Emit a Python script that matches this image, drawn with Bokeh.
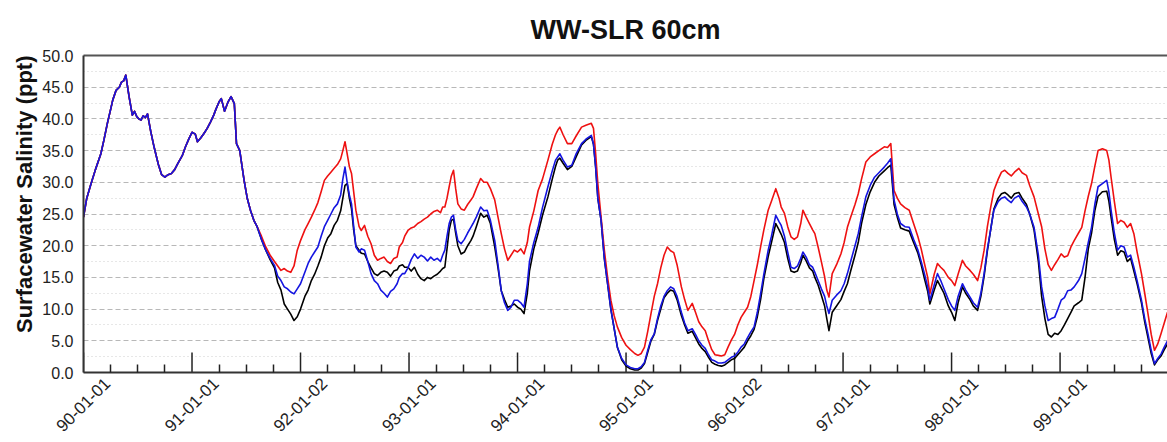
import math
from bokeh.plotting import figure
from bokeh.models import Range1d, FixedTicker, LinearAxis, PrintfTickFormatter, Title
from bokeh.embed import file_html
from bokeh.resources import INLINE

# ---------------- data ----------------
# time in years since 1990-01-01
shared_years = [
    0.00, 0.03, 0.07, 0.11, 0.16, 0.19, 0.22, 0.25, 0.27, 0.30,
    0.33, 0.35, 0.37, 0.39, 0.42, 0.45, 0.47, 0.49, 0.51, 0.53,
    0.55, 0.57, 0.59, 0.62, 0.65, 0.69, 0.72, 0.75, 0.78, 0.81,
    0.84, 0.87, 0.91, 0.94, 0.97, 1.00, 1.03, 1.05, 1.08, 1.11,
    1.14, 1.17, 1.20, 1.22, 1.25, 1.27, 1.30, 1.33, 1.36, 1.39,
    1.41, 1.44, 1.48, 1.51, 1.54, 1.57, 1.60]
# all three runs coincide over this period
shared = [
    24.5, 27.5, 29.8, 32.0, 34.5, 36.8, 39.3, 41.5, 43.0, 44.5,
    45.0, 45.8, 46.0, 46.9, 43.5, 40.6, 41.2, 40.4, 40.0, 39.8,
    40.5, 40.2, 40.8, 38.0, 35.6, 32.8, 31.2, 30.8, 31.2, 31.4,
    32.0, 33.0, 34.2, 35.6, 36.8, 37.9, 37.6, 36.4, 37.0, 37.7,
    38.5, 39.5, 40.6, 41.5, 42.7, 43.2, 41.2, 42.6, 43.5, 42.4,
    36.1, 35.0, 30.3, 27.4, 25.5, 24.0, 23.0]

later_years = [
    1.64, 1.68, 1.72, 1.76, 1.79, 1.82, 1.85, 1.88, 1.91, 1.94,
    1.97, 2.00, 2.04, 2.07, 2.10, 2.13, 2.16, 2.19, 2.22, 2.25,
    2.28, 2.31, 2.34, 2.37, 2.39, 2.41, 2.43, 2.45, 2.47, 2.49,
    2.51, 2.54, 2.56, 2.59, 2.62, 2.65, 2.68, 2.71, 2.74, 2.77,
    2.80, 2.83, 2.86, 2.89, 2.91, 2.94, 2.96, 2.99, 3.02, 3.05,
    3.08, 3.11, 3.14, 3.17, 3.20, 3.23, 3.26, 3.29, 3.31, 3.33,
    3.35, 3.37, 3.39, 3.41, 3.43, 3.45, 3.48, 3.51, 3.54, 3.57,
    3.59, 3.62, 3.66, 3.69, 3.72, 3.75, 3.79, 3.82, 3.85, 3.88,
    3.91, 3.94, 3.97, 4.00, 4.03, 4.06, 4.09, 4.11, 4.15, 4.19,
    4.23, 4.28, 4.32, 4.35, 4.37, 4.39, 4.42, 4.46, 4.50, 4.54,
    4.59, 4.63, 4.68, 4.70, 4.72, 4.74, 4.77, 4.80, 4.83, 4.86,
    4.89, 4.92, 4.96, 5.00, 5.04, 5.08, 5.11, 5.14, 5.17, 5.20,
    5.23, 5.26, 5.29, 5.32, 5.35, 5.38, 5.41, 5.44, 5.47, 5.51,
    5.54, 5.57, 5.61, 5.64, 5.67, 5.70, 5.73, 5.76, 5.79, 5.82,
    5.85, 5.88, 5.91, 5.94, 5.97, 6.00, 6.03, 6.06, 6.09, 6.12,
    6.15, 6.18, 6.21, 6.24, 6.27, 6.31, 6.34, 6.38, 6.41, 6.43,
    6.46, 6.49, 6.52, 6.55, 6.58, 6.61, 6.63, 6.66, 6.69, 6.72,
    6.74, 6.77, 6.80, 6.83, 6.85, 6.87, 6.90, 6.94, 6.98, 7.01,
    7.04, 7.07, 7.11, 7.14, 7.17, 7.21, 7.25, 7.29, 7.33, 7.38,
    7.41, 7.44, 7.47, 7.50, 7.53, 7.57, 7.61, 7.65, 7.69, 7.72,
    7.75, 7.78, 7.80, 7.84, 7.87, 7.90, 7.93, 7.97, 8.00, 8.03,
    8.06, 8.10, 8.13, 8.17, 8.20, 8.24, 8.27, 8.30, 8.33, 8.36,
    8.39, 8.43, 8.46, 8.49, 8.52, 8.55, 8.58, 8.62, 8.65, 8.69,
    8.72, 8.76, 8.80, 8.83, 8.86, 8.89, 8.92, 8.95, 8.98, 9.01,
    9.04, 9.07, 9.10, 9.13, 9.17, 9.20, 9.23, 9.26, 9.29, 9.32,
    9.35, 9.39, 9.43, 9.45, 9.47, 9.50, 9.53, 9.56, 9.59, 9.62,
    9.65, 9.68, 9.71, 9.75, 9.78, 9.81, 9.84, 9.87, 9.90, 9.93,
    9.96, 9.99]

red_later = [
    21.5, 19.8, 18.5, 17.5, 16.8, 16.1, 16.4, 16.0, 15.8, 16.8,
    19.3, 20.8, 22.5, 23.5, 24.5, 25.6, 26.8, 28.5, 30.3, 31.0,
    31.6, 32.2, 32.8, 33.7, 35.0, 36.4, 34.5, 32.5, 31.4, 28.5,
    25.6, 23.0, 22.4, 23.2, 21.5, 20.3, 18.5, 17.7, 18.0, 18.2,
    17.5, 17.2, 18.0, 18.2, 19.8, 20.5, 21.5, 22.4, 22.8, 23.0,
    23.5, 23.8, 24.2, 24.5, 25.0, 25.4, 25.6, 25.2, 26.1, 26.1,
    27.5, 29.3, 31.0, 31.9, 29.0, 26.6, 25.8, 25.6, 26.5, 27.2,
    27.7, 29.0, 30.6, 30.0, 30.0, 29.0, 27.2, 24.5, 21.9, 19.5,
    17.7, 18.5, 19.3, 19.0, 19.5, 18.7, 20.5, 22.9, 25.5, 28.7,
    30.5, 33.5, 36.0, 37.5, 38.2, 38.7, 37.5, 36.1, 36.1, 37.3,
    38.7, 39.0, 39.3, 38.5, 34.5, 29.8, 24.5, 19.3, 15.0, 11.4,
    9.0, 7.2, 5.5, 4.3, 3.6, 3.0, 2.7, 3.0, 4.0, 6.5,
    9.3, 12.0, 14.0, 16.5, 18.5, 19.8, 19.2, 18.9, 17.0, 13.5,
    11.5, 9.8, 10.9, 9.5, 8.0, 7.2, 6.6, 5.0, 3.6, 2.8,
    2.7, 2.6, 2.8, 4.0, 5.1, 6.0, 7.5, 8.7, 9.5, 10.3,
    12.0, 14.5, 17.0, 19.8, 22.5, 25.6, 27.0, 29.0, 27.5, 26.1,
    25.1, 23.0, 21.4, 21.0, 21.4, 23.5, 25.6, 24.5, 23.5, 22.5,
    21.9, 19.8, 17.5, 15.1, 13.0, 11.9, 15.6, 17.0, 18.7, 20.5,
    22.9, 24.5, 26.5, 28.2, 30.5, 33.2, 34.0, 34.5, 35.0, 35.6,
    35.5, 36.1, 28.7, 27.5, 26.6, 26.0, 25.6, 23.5, 21.4, 19.5,
    17.2, 15.0, 12.4, 15.5, 17.2, 16.6, 16.1, 15.0, 14.5, 13.7,
    15.5, 17.7, 16.8, 16.1, 15.5, 14.5, 16.5, 19.3, 23.0, 26.0,
    28.7, 30.5, 31.6, 31.9, 31.4, 31.0, 31.6, 32.2, 31.5, 31.1,
    29.5, 27.7, 25.0, 23.0, 19.5, 17.0, 16.1, 17.0, 17.8, 18.7,
    18.2, 18.4, 19.8, 20.8, 22.0, 22.9, 25.5, 27.8, 29.8, 32.5,
    35.0, 35.3, 35.0, 33.5, 30.8, 27.0, 23.5, 24.0, 23.7, 22.9,
    23.5, 21.9, 19.0, 15.6, 12.5, 9.3, 6.0, 3.5, 4.5, 6.1,
    7.8, 9.5]

blue_later = [
    21.0, 19.3, 18.0, 16.9, 15.2, 14.5, 13.5, 13.2, 12.7, 12.4,
    13.2, 14.0, 15.8, 17.2, 18.2, 19.0, 19.8, 21.5, 23.0, 24.0,
    25.0, 26.0, 26.6, 28.0, 30.5, 32.4, 30.0, 28.0, 26.6, 23.0,
    19.8, 19.0, 19.5, 19.3, 17.5, 15.6, 14.5, 14.0, 13.0, 12.5,
    11.9, 12.8, 13.2, 14.0, 15.0, 15.6, 15.6, 16.5, 17.8, 18.7,
    18.0, 18.5, 18.2, 17.6, 18.2, 17.7, 18.0, 17.5, 18.5, 19.3,
    21.5, 23.5, 24.5, 24.8, 22.5, 20.8, 20.3, 21.0, 22.0, 22.9,
    23.5, 24.5, 26.1, 25.5, 25.6, 24.0, 20.8, 17.0, 12.9, 11.0,
    9.8, 10.3, 11.4, 11.4, 11.0, 10.3, 14.0, 17.5, 20.5, 22.9,
    26.0, 29.3, 31.8, 33.5, 34.0, 34.5, 33.5, 32.4, 32.7, 34.5,
    36.1, 36.8, 37.4, 36.0, 32.4, 27.5, 24.0, 18.0, 14.0, 10.0,
    7.0, 4.0, 2.2, 1.2, 0.8, 0.6, 0.6, 0.9, 1.6, 3.5,
    5.2, 6.1, 8.5, 10.5, 12.0, 12.9, 13.5, 13.2, 12.0, 9.5,
    7.8, 6.6, 6.9, 6.0, 5.0, 4.3, 3.8, 2.8, 2.0, 1.8,
    1.5, 1.5, 1.6, 2.0, 2.4, 2.6, 3.2, 4.0, 4.5, 5.5,
    6.4, 7.2, 9.5, 12.4, 15.5, 19.3, 21.5, 24.8, 23.8, 23.2,
    21.5, 19.0, 16.6, 16.4, 16.8, 18.0, 19.0, 18.2, 17.0, 16.6,
    15.8, 14.5, 13.2, 12.0, 10.5, 9.3, 11.4, 12.2, 12.9, 14.0,
    15.6, 17.5, 20.0, 21.9, 24.5, 27.7, 29.5, 30.8, 31.5, 32.4,
    33.0, 33.7, 27.2, 25.0, 23.5, 23.0, 22.9, 21.0, 19.3, 17.5,
    15.6, 13.5, 11.4, 13.8, 15.6, 14.5, 13.2, 11.5, 10.5, 9.8,
    12.0, 14.0, 13.0, 11.9, 11.0, 10.3, 12.5, 15.6, 19.5, 22.5,
    25.6, 27.0, 27.5, 27.7, 27.2, 26.8, 27.5, 27.9, 27.0, 26.1,
    25.0, 22.9, 18.5, 13.5, 10.5, 8.2, 8.5, 8.7, 10.0, 11.4,
    11.8, 12.9, 13.0, 13.5, 14.5, 15.6, 18.0, 20.5, 22.9, 26.5,
    29.3, 29.8, 30.3, 28.5, 25.6, 22.0, 19.3, 20.0, 19.8, 18.2,
    18.5, 16.6, 14.5, 11.4, 8.5, 6.1, 3.5, 1.4, 2.2, 2.9,
    4.0, 5.0]

black_later = [
    21.0, 19.3, 17.8, 16.5, 14.2, 13.0, 10.8, 10.0, 9.2, 8.2,
    8.8, 10.0, 12.0, 13.0, 14.5, 15.5, 16.8, 18.2, 20.0, 21.2,
    21.9, 23.2, 24.0, 25.5, 27.5, 29.5, 29.8, 27.5, 25.8, 22.5,
    20.0, 19.3, 18.8, 18.7, 17.5, 16.5, 15.6, 15.3, 15.8, 16.0,
    15.8, 15.2, 16.0, 16.2, 16.8, 17.0, 16.6, 16.6, 16.0, 16.6,
    15.5, 14.8, 14.5, 15.0, 14.8, 15.2, 15.5, 16.0, 16.4, 16.6,
    19.5, 22.5, 24.0, 24.2, 22.0, 20.0, 18.7, 19.0, 20.0, 20.8,
    21.5, 23.0, 25.1, 24.5, 24.8, 23.5, 19.8, 16.5, 12.9, 11.5,
    10.3, 10.5, 10.8, 10.3, 10.0, 9.3, 12.5, 16.0, 19.5, 22.0,
    24.8, 27.7, 30.5, 32.5, 33.5, 33.8, 33.0, 32.0, 32.5, 34.0,
    35.9, 36.6, 37.2, 36.0, 32.4, 27.5, 24.0, 18.0, 14.0, 10.0,
    7.0, 4.0, 2.0, 1.0, 0.6, 0.4, 0.4, 0.7, 1.4, 3.2,
    5.0, 6.0, 8.2, 10.0, 11.8, 12.5, 13.0, 12.8, 11.5, 9.0,
    7.5, 6.2, 6.5, 5.5, 4.5, 3.8, 3.3, 2.4, 1.6, 1.3,
    1.1, 1.0, 1.2, 1.6, 2.0, 2.2, 2.8, 3.4, 4.0, 5.0,
    5.8, 6.8, 8.8, 11.5, 14.8, 18.3, 20.5, 23.5, 22.5, 21.8,
    20.5, 18.0, 16.0, 15.8, 16.0, 17.3, 18.5, 17.6, 16.5, 16.0,
    15.0, 13.8, 12.2, 10.5, 8.5, 6.6, 9.5, 10.5, 11.5, 12.8,
    14.0, 16.0, 18.5, 20.5, 23.5, 26.5, 28.5, 30.0, 31.0, 31.8,
    32.3, 32.7, 26.5, 24.5, 22.8, 22.5, 22.3, 20.5, 18.8, 17.0,
    14.8, 12.8, 10.8, 13.0, 14.5, 13.5, 12.5, 10.5, 9.5, 8.2,
    11.0, 13.5, 12.5, 11.5, 10.5, 9.8, 12.0, 15.2, 19.2, 22.5,
    25.8, 27.5, 28.2, 28.4, 28.0, 27.5, 28.2, 28.4, 27.5, 26.5,
    25.0, 22.5, 17.5, 12.0, 8.5, 6.0, 5.6, 6.2, 6.0, 6.6,
    7.5, 8.5, 9.5, 10.5, 11.0, 11.4, 15.0, 19.5, 22.0, 25.5,
    27.8, 28.5, 28.6, 27.0, 24.5, 21.0, 18.5, 19.2, 19.0, 17.5,
    18.0, 16.0, 14.0, 11.0, 8.0, 5.5, 3.0, 1.2, 2.0, 2.6,
    3.6, 4.5]

years = shared_years + later_years
red = shared + red_later
blue = shared + blue_later
black = shared + black_later

tick_years = [0, 1, 2, 3, 4, 5, 6, 7, 8, 9]
tick_labels = ["90-01-01", "91-01-01", "92-01-02", "93-01-01", "94-01-01",
               "95-01-01", "96-01-02", "97-01-01", "98-01-01", "99-01-01"]
y_ticks = [0, 5, 10, 15, 20, 25, 30, 35, 40, 45, 50]

# ---------------- figure ----------------
FONT = "Liberation Sans"

p = figure(width=1167, height=442,
           x_range=Range1d(0, 9.99), y_range=Range1d(0, 50),
           output_backend="svg", toolbar_location=None,
           title="WW-SLR 60cm",
           min_border_left=83, min_border_right=0,
           min_border_top=55, min_border_bottom=70)
p.background_fill_color = "white"
p.border_fill_color = "white"
p.outline_line_color = None

p.title.text_font = FONT
p.title.text_font_size = "27px"
p.title.text_font_style = "bold"
p.title.text_color = "#111111"
p.title.align = "center"
p.title.text_line_height = 0.85
p.title.standoff = 22

# y axis
yax = p.yaxis[0]
yax.ticker = FixedTicker(ticks=y_ticks,
                         minor_ticks=[v + 2.5 for v in y_ticks[:-1]])
yax.formatter = PrintfTickFormatter(format="%.1f")
yax.major_tick_in = 0
yax.major_tick_out = 0
yax.minor_tick_in = 0
yax.minor_tick_out = 0
yax.axis_line_color = "#333333"
yax.axis_line_width = 2
yax.major_label_text_font = FONT
yax.major_label_text_font_size = "16px"
yax.major_label_text_color = "#222222"
yax.major_label_standoff = 10

# y axis title, its top end level with the top of the frame as in the original
ylab = Title(text="Surfacewater Salinity (ppt)", align="right", offset=0,
             text_font=FONT, text_font_size="22px", text_font_style="bold",
             text_color="#111111", standoff=6)
p.add_layout(ylab, "left")

p.ygrid.grid_line_color = "#b8b8b8"
p.ygrid.grid_line_dash = "5 3"
p.ygrid.grid_line_width = 1
p.ygrid.minor_grid_line_color = "#cfcfcf"
p.ygrid.minor_grid_line_dash = "1 3"
p.xgrid.visible = False

# x axis: quarterly minor ticks + rotated date labels (label sits just right of its year)
LABEL_SHIFT = 0.21875
label_pos = [t + LABEL_SHIFT for t in tick_years]
xax = p.xaxis[0]
xax.ticker = FixedTicker(ticks=label_pos,
                         minor_ticks=[t + q for t in range(10) for q in (0.25, 0.5, 0.75)])
xax.major_label_overrides = {pos: lab for pos, lab in zip(label_pos, tick_labels)}
xax.major_label_orientation = math.pi / 4
xax.major_label_standoff = 8
xax.major_label_text_font = FONT
xax.major_label_text_font_size = "17px"
xax.major_label_text_color = "#222222"
xax.major_tick_line_color = None
xax.major_tick_in = 0
xax.major_tick_out = 0
xax.minor_tick_in = 8
xax.minor_tick_out = 0
xax.minor_tick_line_color = "#222222"
xax.minor_tick_line_width = 1.5
xax.axis_line_color = "#333333"
xax.axis_line_width = 2

# top frame border
top_axis = LinearAxis(ticker=FixedTicker(ticks=[]))
top_axis.axis_line_color = "#555555"
top_axis.axis_line_width = 2
top_axis.major_tick_line_color = None
top_axis.minor_tick_line_color = None
top_axis.major_tick_out = 0
top_axis.major_tick_in = 0
p.add_layout(top_axis, "above")

# yearly (major) tick marks, 20px tall, pointing into the plot
p.scatter(tick_years, [0] * len(tick_years), marker="dash", size=40, angle=math.pi / 2,
          line_color="#222222", line_width=1.5)

# series
p.line(years, black, line_color="black", line_width=1.6, line_join="round")
p.line(years, red, line_color="#ee1111", line_width=1.6, line_join="round")
p.line(years, blue, line_color="#1515e0", line_width=1.6, line_join="round")

open("out.html", "w").write(file_html(p, INLINE))
